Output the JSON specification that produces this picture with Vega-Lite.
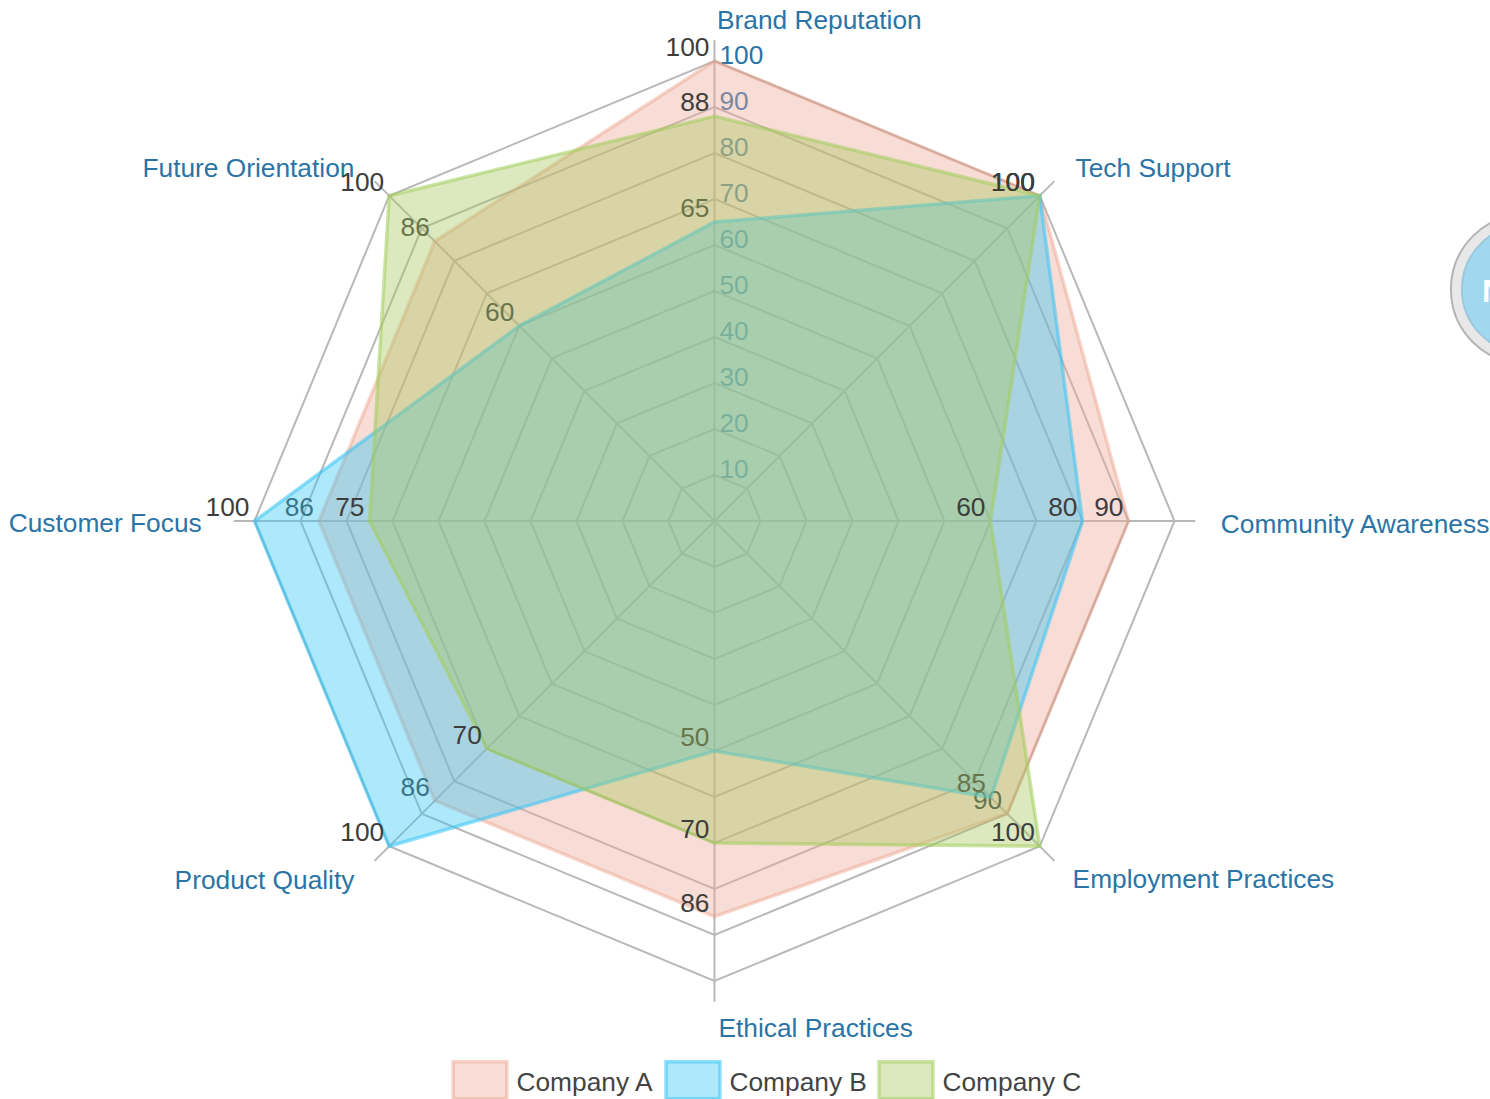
{
"$schema":"https://vega.github.io/schema/vega-lite/v6.json",
"width":1490,"height":1099,"padding":0,"autosize":{"type":"none"},
"background":"#ffffff",
"config":{"view":{"stroke":null},"text":{"font":"Liberation Sans"}},
"datasets":{
"scores":[
{"company":"Company A","axis":"Brand Reputation","i":0,"value":100},
{"company":"Company A","axis":"Tech Support","i":1,"value":100},
{"company":"Company A","axis":"Community Awareness","i":2,"value":90},
{"company":"Company A","axis":"Employment Practices","i":3,"value":90},
{"company":"Company A","axis":"Ethical Practices","i":4,"value":86},
{"company":"Company A","axis":"Product Quality","i":5,"value":86},
{"company":"Company A","axis":"Customer Focus","i":6,"value":86},
{"company":"Company A","axis":"Future Orientation","i":7,"value":86},
{"company":"Company B","axis":"Brand Reputation","i":0,"value":65},
{"company":"Company B","axis":"Tech Support","i":1,"value":100},
{"company":"Company B","axis":"Community Awareness","i":2,"value":80},
{"company":"Company B","axis":"Employment Practices","i":3,"value":85},
{"company":"Company B","axis":"Ethical Practices","i":4,"value":50},
{"company":"Company B","axis":"Product Quality","i":5,"value":100},
{"company":"Company B","axis":"Customer Focus","i":6,"value":100},
{"company":"Company B","axis":"Future Orientation","i":7,"value":60},
{"company":"Company C","axis":"Brand Reputation","i":0,"value":88},
{"company":"Company C","axis":"Tech Support","i":1,"value":100},
{"company":"Company C","axis":"Community Awareness","i":2,"value":60},
{"company":"Company C","axis":"Employment Practices","i":3,"value":100},
{"company":"Company C","axis":"Ethical Practices","i":4,"value":70},
{"company":"Company C","axis":"Product Quality","i":5,"value":70},
{"company":"Company C","axis":"Customer Focus","i":6,"value":75},
{"company":"Company C","axis":"Future Orientation","i":7,"value":100}
],
"axes":[
{"axis":"Brand Reputation","i":0},{"axis":"Tech Support","i":1},{"axis":"Community Awareness","i":2},{"axis":"Employment Practices","i":3},
{"axis":"Ethical Practices","i":4},{"axis":"Product Quality","i":5},{"axis":"Customer Focus","i":6},{"axis":"Future Orientation","i":7}
],
"levels":[
{"value":10,"i":[0,1,2,3,4,5,6,7]},{"value":20,"i":[0,1,2,3,4,5,6,7]},{"value":30,"i":[0,1,2,3,4,5,6,7]},{"value":40,"i":[0,1,2,3,4,5,6,7]},{"value":50,"i":[0,1,2,3,4,5,6,7]},
{"value":60,"i":[0,1,2,3,4,5,6,7]},{"value":70,"i":[0,1,2,3,4,5,6,7]},{"value":80,"i":[0,1,2,3,4,5,6,7]},{"value":90,"i":[0,1,2,3,4,5,6,7]},{"value":100,"i":[0,1,2,3,4,5,6,7]}
]
},
"encoding":{
"x":{"field":"px","type":"quantitative","axis":null,"scale":{"domain":[-155.326,168.587],"range":[0,1490],"nice":false,"zero":false}},
"y":{"field":"py","type":"quantitative","axis":null,"scale":{"domain":[-125.652,113.261],"range":[1099,0],"nice":false,"zero":false}}
},
"layer":[
{"data":{"name":"levels"},
 "transform":[{"flatten":["i"]},{"calculate":"datum.value*sin(datum.i*PI/4)","as":"px"},{"calculate":"datum.value*cos(datum.i*PI/4)","as":"py"}],
 "mark":{"type":"line","interpolate":"linear-closed","stroke":"#b8b8b8","strokeWidth":2,"clip":false},
 "encoding":{"detail":{"field":"value"},"order":{"field":"i"}}},
{"data":{"name":"axes"},
 "transform":[{"calculate":"0","as":"px"},{"calculate":"0","as":"py"},{"calculate":"104.5*sin(datum.i*PI/4)","as":"ex"},{"calculate":"104.5*cos(datum.i*PI/4)","as":"ey"}],
 "mark":{"type":"rule","stroke":"#b8b8b8","strokeWidth":2},
 "encoding":{"x2":{"field":"ex"},"y2":{"field":"ey"}}},
{"data":{"name":"levels"},
 "transform":[{"calculate":"0","as":"px"},{"calculate":"datum.value","as":"py"}],
 "mark":{"type":"text","align":"left","baseline":"middle","dx":5,"dy":-5,"fontSize":26.3,"color":"#2a74a6"},
 "encoding":{"text":{"field":"value"}}},
{"data":{"name":"axes"},
 "transform":[{"filter":"datum.i==0"},{"calculate":"110.4*sin(datum.i*PI/4)","as":"px"},{"calculate":"110.4*cos(datum.i*PI/4)","as":"py"}],
 "mark":{"type":"text","align":"left","baseline":"middle","dx":2.5,"dy":7.5,"fontSize":26.3,"color":"#2a74a6"},
 "encoding":{"text":{"field":"axis"}}},
{"data":{"name":"axes"},
 "transform":[{"filter":"datum.i==1"},{"calculate":"110.4*sin(datum.i*PI/4)","as":"px"},{"calculate":"110.4*cos(datum.i*PI/4)","as":"py"}],
 "mark":{"type":"text","align":"left","baseline":"middle","dx":2,"dy":7.5,"fontSize":26.3,"color":"#2a74a6"},
 "encoding":{"text":{"field":"axis"}}},
{"data":{"name":"axes"},
 "transform":[{"filter":"datum.i==2"},{"calculate":"110.4*sin(datum.i*PI/4)","as":"px"},{"calculate":"110.4*cos(datum.i*PI/4)","as":"py"}],
 "mark":{"type":"text","align":"left","baseline":"middle","dx":-1.5,"dy":4,"fontSize":26.3,"color":"#2a74a6"},
 "encoding":{"text":{"field":"axis"}}},
{"data":{"name":"axes"},
 "transform":[{"filter":"datum.i==3"},{"calculate":"110.4*sin(datum.i*PI/4)","as":"px"},{"calculate":"110.4*cos(datum.i*PI/4)","as":"py"}],
 "mark":{"type":"text","align":"left","baseline":"middle","dx":-1,"dy":0,"fontSize":26.3,"color":"#2a74a6"},
 "encoding":{"text":{"field":"axis"}}},
{"data":{"name":"axes"},
 "transform":[{"filter":"datum.i==4"},{"calculate":"110.4*sin(datum.i*PI/4)","as":"px"},{"calculate":"110.4*cos(datum.i*PI/4)","as":"py"}],
 "mark":{"type":"text","align":"left","baseline":"middle","dx":4,"dy":0,"fontSize":26.3,"color":"#2a74a6"},
 "encoding":{"text":{"field":"axis"}}},
{"data":{"name":"axes"},
 "transform":[{"filter":"datum.i==5"},{"calculate":"110.4*sin(datum.i*PI/4)","as":"px"},{"calculate":"110.4*cos(datum.i*PI/4)","as":"py"}],
 "mark":{"type":"text","align":"right","baseline":"middle","dx":-1,"dy":1,"fontSize":26.3,"color":"#2a74a6"},
 "encoding":{"text":{"field":"axis"}}},
{"data":{"name":"axes"},
 "transform":[{"filter":"datum.i==7"},{"calculate":"110.4*sin(datum.i*PI/4)","as":"px"},{"calculate":"110.4*cos(datum.i*PI/4)","as":"py"}],
 "mark":{"type":"text","align":"right","baseline":"middle","dx":-1,"dy":7,"fontSize":26.3,"color":"#2a74a6"},
 "encoding":{"text":{"field":"axis"}}},
{"data":{"name":"axes"},
 "transform":[{"filter":"datum.i==6"},{"calculate":"110.4*sin(datum.i*PI/4)","as":"px"},{"calculate":"110.4*cos(datum.i*PI/4)","as":"py"}],
 "mark":{"type":"text","align":"right","baseline":"middle","dx":-5,"dy":3,"fontSize":26.3,"color":"#2a74a6"},
 "encoding":{"text":{"field":"axis"}}},
{"data":{"values":[{"px":176.4,"py":50.4,"badge":"N"}]},
 "mark":{"type":"point","shape":"circle","filled":true,"size":22500,"fill":"#e8e8e8","stroke":"#b4b4b4","strokeWidth":2,"opacity":1,"clip":false},
 "encoding":{}},
{"data":{"values":[{"px":176.4,"py":50.4,"badge":"N"}]},
 "mark":{"type":"point","shape":"circle","filled":true,"size":16384,"fill":"#a0d8ef","stroke":"#9cc8dc","strokeWidth":2,"opacity":1,"clip":false},
 "encoding":{}},
{"data":{"values":[{"px":176.4,"py":50.4,"badge":"N"}]},
 "mark":{"type":"text","align":"left","baseline":"middle","dx":-44,"dy":3,"fontSize":32,"fontWeight":"bold","color":"#ffffff"},
 "encoding":{"text":{"field":"badge"}}},
{"data":{"name":"scores"},
 "transform":[{"filter":"datum.company=='Company A'"},{"calculate":"datum.value*sin(datum.i*PI/4)","as":"px"},{"calculate":"datum.value*cos(datum.i*PI/4)","as":"py"}],
 "mark":{"type":"line","interpolate":"linear-closed","filled":true,"strokeWidth":3.5},
 "encoding":{"order":{"field":"i"},
  "fill":{"field":"company","type":"nominal","scale":{"domain":["Company A","Company B","Company C"],"range":["rgba(237,168,152,0.4)","rgba(52,197,245,0.4)","rgba(167,200,95,0.4)"]},"legend":{"orient":"none","legendX":451,"legendY":1051,"direction":"horizontal","columns":3,"title":null,"symbolType":"M-1,-0.685H1V0.685H-1Z","symbolSize":2916,"symbolStrokeWidth":3.5,"labelFontSize":26.3,"labelFont":"Liberation Sans","labelColor":"#444444","labelOffset":7.5,"columnPadding":5,"encode":{"labels":{"update":{"dy":{"value":3}}}}}},
  "stroke":{"field":"company","type":"nominal","scale":{"domain":["Company A","Company B","Company C"],"range":["rgba(233,150,122,0.38)","rgba(52,197,245,0.55)","rgba(160,205,90,0.55)"]},"legend":{"orient":"none","legendX":451,"legendY":1051,"direction":"horizontal","columns":3,"title":null,"symbolType":"M-1,-0.685H1V0.685H-1Z","symbolSize":2916,"symbolStrokeWidth":3.5,"labelFontSize":26.3,"labelFont":"Liberation Sans","labelColor":"#444444","labelOffset":7.5,"columnPadding":5,"encode":{"labels":{"update":{"dy":{"value":3}}}}}}}},
{"data":{"name":"scores"},
 "transform":[{"filter":"datum.company=='Company A'"},{"calculate":"datum.value*sin(datum.i*PI/4)","as":"px"},{"calculate":"datum.value*cos(datum.i*PI/4)","as":"py"}],
 "mark":{"type":"text","align":"right","baseline":"middle","dx":-5,"dy":-13,"fontSize":26.3,"color":"#3d3d3d"},
 "encoding":{"text":{"field":"value"}}},
{"data":{"name":"scores"},
 "transform":[{"filter":"datum.company=='Company B'"},{"calculate":"datum.value*sin(datum.i*PI/4)","as":"px"},{"calculate":"datum.value*cos(datum.i*PI/4)","as":"py"}],
 "mark":{"type":"line","interpolate":"linear-closed","filled":true,"strokeWidth":3.5},
 "encoding":{"order":{"field":"i"},
  "fill":{"field":"company","type":"nominal","scale":{"domain":["Company A","Company B","Company C"],"range":["rgba(237,168,152,0.4)","rgba(52,197,245,0.4)","rgba(167,200,95,0.4)"]},"legend":{"orient":"none","legendX":451,"legendY":1051,"direction":"horizontal","columns":3,"title":null,"symbolType":"M-1,-0.685H1V0.685H-1Z","symbolSize":2916,"symbolStrokeWidth":3.5,"labelFontSize":26.3,"labelFont":"Liberation Sans","labelColor":"#444444","labelOffset":7.5,"columnPadding":5,"encode":{"labels":{"update":{"dy":{"value":3}}}}}},
  "stroke":{"field":"company","type":"nominal","scale":{"domain":["Company A","Company B","Company C"],"range":["rgba(233,150,122,0.38)","rgba(52,197,245,0.55)","rgba(160,205,90,0.55)"]},"legend":{"orient":"none","legendX":451,"legendY":1051,"direction":"horizontal","columns":3,"title":null,"symbolType":"M-1,-0.685H1V0.685H-1Z","symbolSize":2916,"symbolStrokeWidth":3.5,"labelFontSize":26.3,"labelFont":"Liberation Sans","labelColor":"#444444","labelOffset":7.5,"columnPadding":5,"encode":{"labels":{"update":{"dy":{"value":3}}}}}}}},
{"data":{"name":"scores"},
 "transform":[{"filter":"datum.company=='Company B'"},{"calculate":"datum.value*sin(datum.i*PI/4)","as":"px"},{"calculate":"datum.value*cos(datum.i*PI/4)","as":"py"}],
 "mark":{"type":"text","align":"right","baseline":"middle","dx":-5,"dy":-13,"fontSize":26.3,"color":"#3d3d3d"},
 "encoding":{"text":{"field":"value"}}},
{"data":{"name":"scores"},
 "transform":[{"filter":"datum.company=='Company C'"},{"calculate":"datum.value*sin(datum.i*PI/4)","as":"px"},{"calculate":"datum.value*cos(datum.i*PI/4)","as":"py"}],
 "mark":{"type":"line","interpolate":"linear-closed","filled":true,"strokeWidth":3.5},
 "encoding":{"order":{"field":"i"},
  "fill":{"field":"company","type":"nominal","scale":{"domain":["Company A","Company B","Company C"],"range":["rgba(237,168,152,0.4)","rgba(52,197,245,0.4)","rgba(167,200,95,0.4)"]},"legend":{"orient":"none","legendX":451,"legendY":1051,"direction":"horizontal","columns":3,"title":null,"symbolType":"M-1,-0.685H1V0.685H-1Z","symbolSize":2916,"symbolStrokeWidth":3.5,"labelFontSize":26.3,"labelFont":"Liberation Sans","labelColor":"#444444","labelOffset":7.5,"columnPadding":5,"encode":{"labels":{"update":{"dy":{"value":3}}}}}},
  "stroke":{"field":"company","type":"nominal","scale":{"domain":["Company A","Company B","Company C"],"range":["rgba(233,150,122,0.38)","rgba(52,197,245,0.55)","rgba(160,205,90,0.55)"]},"legend":{"orient":"none","legendX":451,"legendY":1051,"direction":"horizontal","columns":3,"title":null,"symbolType":"M-1,-0.685H1V0.685H-1Z","symbolSize":2916,"symbolStrokeWidth":3.5,"labelFontSize":26.3,"labelFont":"Liberation Sans","labelColor":"#444444","labelOffset":7.5,"columnPadding":5,"encode":{"labels":{"update":{"dy":{"value":3}}}}}}}},
{"data":{"name":"scores"},
 "transform":[{"filter":"datum.company=='Company C'"},{"calculate":"datum.value*sin(datum.i*PI/4)","as":"px"},{"calculate":"datum.value*cos(datum.i*PI/4)","as":"py"}],
 "mark":{"type":"text","align":"right","baseline":"middle","dx":-5,"dy":-13,"fontSize":26.3,"color":"#3d3d3d"},
 "encoding":{"text":{"field":"value"}}}
]
}
